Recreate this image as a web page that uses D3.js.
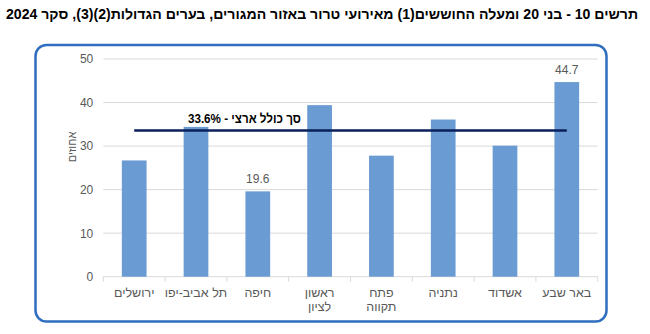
<!DOCTYPE html>
<html><head><meta charset="utf-8">
<script src="https://cdn.jsdelivr.net/npm/d3@7"></script>
<style>
html,body{margin:0;padding:0;background:#fff;}
svg{display:block;font-family:"Liberation Sans",Arial,sans-serif;}
</style></head>
<body>
<svg id="c" width="650" height="334"></svg>
<script>
const categories = ["ירושלים","תל אביב-יפו","חיפה","ראשון לציון","פתח תקווה","נתניה","אשדוד","באר שבע"];
const categoryLines = [["ירושלים"],["תל אביב-יפו"],["חיפה"],["ראשון","לציון"],["פתח","תקווה"],["נתניה"],["אשדוד"],["באר שבע"]];
const values = [26.7, 34.4, 19.6, 39.4, 27.8, 36.1, 30.1, 44.7];
const labelledValues = [2, 7];
const nationalTotal = 33.6;
const yTicks = [0, 10, 20, 30, 40, 50];
const titleText = "תרשים 10 - בני 20 ומעלה החוששים(1) מאירועי טרור באזור המגורים, בערים הגדולות(2)(3), סקר 2024";
const yTitle = "אחוזים";
const totalLabel = "סך כולל ארצי - 33.6%";

const svg = d3.select("#c");

// title
svg.append("text").attr("x", 322).attr("y", 19)
  .attr("direction", "rtl").attr("text-anchor", "middle")
  .attr("font-size", 14).attr("font-weight", "bold").attr("fill", "#000")
  .attr("textLength", 632).attr("lengthAdjust", "spacingAndGlyphs")
  .text(titleText);

// frame
svg.append("rect").attr("x", 35.5).attr("y", 45).attr("width", 571).attr("height", 276.5)
  .attr("rx", 11).attr("fill", "none").attr("stroke", "#2f6ebe").attr("stroke-width", 2.5);

const x = d3.scaleBand().domain(categories).range([103.3, 597.7]).paddingInner(0.6).paddingOuter(0.3);
const y = d3.scaleLinear().domain([0, 50]).range([276.7, 59]);

// gridlines
svg.append("g").selectAll("line").data(yTicks.filter(d => d > 0)).join("line")
  .attr("x1", 103.3).attr("x2", 597.7)
  .attr("y1", d => y(d)).attr("y2", d => y(d))
  .attr("stroke", "#d9d9d9").attr("stroke-width", 1);

// y axis labels
const yAxis = d3.axisLeft(y).tickValues(yTicks).tickSize(0).tickPadding(10);
const yg = svg.append("g").attr("transform", "translate(103.3,0)").call(yAxis);
yg.select(".domain").remove();
yg.selectAll("text").attr("font-size", 12).attr("fill", "#595959").attr("font-family", "Liberation Sans, Arial, sans-serif");

// x axis
const step = x.step();
const xAxisG = svg.append("g");
xAxisG.append("line").attr("x1", 103.3).attr("x2", 597.7).attr("y1", y(0)).attr("y2", y(0))
  .attr("stroke", "#d9d9d9").attr("stroke-width", 1);
const boundaries = d3.range(categories.length + 1).map(i => x.range()[0] + i * step);
xAxisG.selectAll("line.tk").data(boundaries).join("line").attr("class", "tk")
  .attr("x1", d => d).attr("x2", d => d).attr("y1", y(0)).attr("y2", y(0) + 5)
  .attr("stroke", "#d9d9d9").attr("stroke-width", 1);

// bars
svg.append("g").selectAll("rect").data(values).join("rect")
  .attr("x", (d, i) => x(categories[i]))
  .attr("width", x.bandwidth())
  .attr("y", d => y(d))
  .attr("height", d => y(0) - y(d))
  .attr("fill", "#6a9bd2");

// value labels
svg.append("g").selectAll("text").data(labelledValues).join("text")
  .attr("x", i => x(categories[i]) + x.bandwidth() / 2)
  .attr("y", i => y(values[i]) - 8)
  .attr("text-anchor", "middle").attr("font-size", 12).attr("fill", "#595959")
  .text(i => values[i].toFixed(1));

// category labels
const cl = svg.append("g").selectAll("text").data(categoryLines).join("text")
  .attr("text-anchor", "middle").attr("font-size", 12.5).attr("fill", "#595959")
  .attr("direction", "rtl");
cl.each(function(lines, i) {
  const cx = x(categories[i]) + x.bandwidth() / 2;
  d3.select(this).selectAll("tspan").data(lines).join("tspan")
    .attr("x", cx).attr("y", (d, j) => 297 + j * 14).text(d => d);
});

// national total line
const x1 = x(categories[0]) + x.bandwidth() / 2;
const x2 = x(categories[categories.length - 1]) + x.bandwidth() / 2;
svg.append("line").attr("x1", x1).attr("x2", x2)
  .attr("y1", y(nationalTotal)).attr("y2", y(nationalTotal))
  .attr("stroke", "#0b1f5a").attr("stroke-width", 2.5);
svg.append("text")
  .attr("x", x(categories[2]) - 1).attr("y", y(nationalTotal) - 7.5)
  .attr("text-anchor", "middle").attr("direction", "rtl")
  .attr("font-size", 13).attr("font-weight", "bold").attr("fill", "#000")
  .attr("textLength", 113).attr("lengthAdjust", "spacingAndGlyphs")
  .text(totalLabel);

// y title
svg.append("text").attr("transform", "translate(75.5,147) rotate(-90)")
  .attr("text-anchor", "middle").attr("font-size", 11).attr("fill", "#595959")
  .attr("direction", "rtl")
  .text(yTitle);
</script>
</body></html>
